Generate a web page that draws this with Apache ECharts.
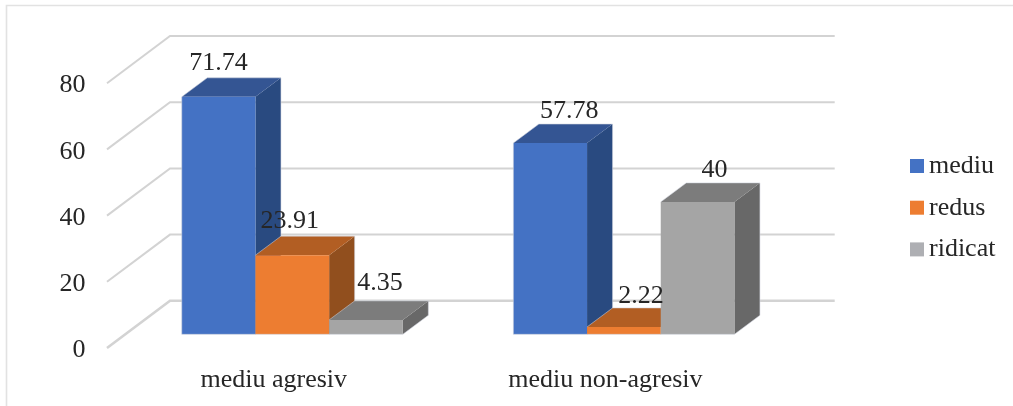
<!DOCTYPE html>
<html>
<head>
<meta charset="utf-8">
<style>html,body{margin:0;padding:0;background:#fff}#chart{width:1013px;height:406px}</style>
<script src="https://cdn.jsdelivr.net/npm/echarts@6/dist/echarts.min.js"></script>
</head>
<body>
<div id="chart"></div>
<script>
const categories = ['mediu agresiv', 'mediu non-agresiv'];
const seriesNames = ['mediu', 'redus', 'ridicat'];
const mediu = [71.74, 57.78];
const redus = [23.91, 2.22];
const ridicat = [4.35, 40];
const yTicks = [0, 20, 40, 60, 80];

// Faux-3D extrusion of each bar, in pixels
const DEPTH_X = 25.5, DEPTH_Y = 19;
const FONT = '"Liberation Serif", serif';
const INK = '#262626';

const palettes = {
  mediu:   { front: '#4472c4', top: '#345593', side: '#294a80' },
  redus:   { front: '#ed7d31', top: '#b25e23', side: '#914f1e' },
  ridicat: { front: '#a5a5a5', top: '#7c7c7c', side: '#686868' }
};

// Per-label shift [dx, lift above the back top edge]
const labelShift = {
  mediu:   [[0, 15], [19, 13]],
  redus:   [[-2.5, 15], [17, 12]],
  ridicat: [[14, 18], [17, 13]]
};

function poly(points, fill, z2) {
  return { type: 'polygon', z2: z2 || 0, shape: { points }, style: { fill, stroke: null } };
}

function barRenderer(name, slot) {
  const colors = palettes[name];
  return function (params, api) {
    const idx = api.value(0), val = api.value(1);
    const band = api.size([1, 0])[0];
    const w = band / 4.5;
    const c = api.coord([idx, 0]);
    const baseY = c[1];
    const topY = api.coord([idx, val])[1];
    const x0 = c[0] - 1.5 * w + slot * w, x1 = x0 + w;
    const dx = DEPTH_X, dy = DEPTH_Y;
    const shift = labelShift[name][idx];
    // Pale rim around the block; only the first bar of a cluster has an exposed left edge
    const rim = [[x0, topY], [x0 + dx, topY - dy], [x1 + dx, topY - dy], [x1 + dx, baseY - dy], [x1, baseY], [x0, baseY]];
    if (slot === 0) rim.push([x0, topY]);
    return {
      type: 'group',
      children: [
        poly([[x1, baseY], [x1 + dx, baseY - dy], [x1 + dx, topY - dy], [x1, topY]], colors.side),
        poly([[x0, topY], [x0 + dx, topY - dy], [x1 + dx, topY - dy], [x1, topY]], colors.top),
        poly([[x0, baseY], [x1, baseY], [x1, topY], [x0, topY]], colors.front),
        {
          type: 'polyline',
          shape: { points: rim },
          style: { fill: null, stroke: 'rgba(205,210,220,0.55)', lineWidth: 1 }
        },
        {
          type: 'text',
          z2: 100,
          style: {
            text: String(val),
            x: (x0 + x1) / 2 + shift[0],
            y: topY - dy - shift[1],
            fill: INK,
            font: '26px ' + FONT,
            align: 'center',
            verticalAlign: 'middle'
          }
        }
      ]
    };
  };
}

function wallRenderer(params, api) {
  const grid = params.coordSys;
  const y = api.coord([0, api.value(1)])[1];
  return {
    type: 'polyline',
    shape: { points: [[grid.x - 19.5, y + 13.7], [grid.x + 43.5, y - 33.5], [grid.x + grid.width + 45, y - 33.5]] },
    style: { fill: null, stroke: '#d3d3d3', lineWidth: api.value(1) === 0 ? 2.6 : 2 }
  };
}

const chart = echarts.init(document.getElementById('chart'), null, { renderer: 'canvas' });
chart.setOption({
  animation: false,
  backgroundColor: '#ffffff',
  grid: { left: 126.5, top: 69.5, width: 663.2, height: 264.8 },
  xAxis: {
    type: 'category',
    data: categories,
    axisLine: { show: false },
    axisTick: { show: false },
    axisLabel: { fontFamily: FONT, fontSize: 26, color: INK, margin: 33, padding: [0, 37, 0, 0], interval: 0 }
  },
  yAxis: {
    type: 'value',
    min: 0,
    max: 80,
    interval: 20,
    axisLine: { show: false },
    axisTick: { show: false },
    splitLine: { show: false },
    axisLabel: { fontFamily: FONT, fontSize: 26, lineHeight: 32, color: INK, margin: 41, verticalAlign: 'top' }
  },
  legend: {
    orient: 'vertical',
    left: 905,
    top: 147,
    itemWidth: 14,
    itemHeight: 14,
    itemGap: 13.7,
    icon: 'rect',
    selectedMode: false,
    textStyle: { fontFamily: FONT, fontSize: 26, lineHeight: 28, color: INK },
    data: [
      { name: 'mediu', itemStyle: { color: '#4472c4' } },
      { name: 'redus', itemStyle: { color: '#ed7d31' } },
      { name: 'ridicat', itemStyle: { color: '#aeafb3' } }
    ]
  },
  graphic: [{
    type: 'polyline',
    silent: true,
    shape: { points: [[6.5, 406], [6.5, 5.5], [1013, 5.5]] },
    style: { fill: null, stroke: '#e2e2e2', lineWidth: 1.6 }
  }],
  series: [
    {
      type: 'custom',
      name: 'wall',
      z: 1,
      silent: true,
      renderItem: wallRenderer,
      encode: { x: 0, y: 1 },
      data: yTicks.map(v => [0, v])
    },
    ...[mediu, redus, ridicat].map((values, slot) => ({
      type: 'custom',
      name: seriesNames[slot],
      z: 2,
      itemStyle: { color: palettes[seriesNames[slot]].front },
      renderItem: barRenderer(seriesNames[slot], slot),
      encode: { x: 0, y: 1 },
      data: values.map((v, i) => [i, v])
    }))
  ]
});
</script>
</body>
</html>
